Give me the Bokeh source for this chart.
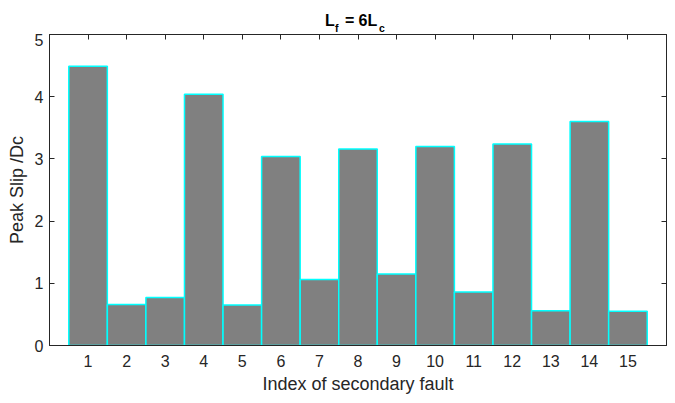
from bokeh.plotting import figure
from bokeh.models import ColumnDataSource, FixedTicker, LinearAxis, Range1d
from bokeh.layouts import column
from bokeh.core.properties import value
from bokeh.embed import file_html
from bokeh.resources import INLINE

# ---- data ----
fault_index = list(range(1, 16))
peak_slip = [4.49, 0.66, 0.77, 4.04, 0.65, 3.04, 1.06, 3.16,
             1.15, 3.20, 0.86, 3.24, 0.56, 3.60, 0.55]
x_ticks = list(range(1, 16))
y_ticks = [0, 1, 2, 3, 4, 5]
x_label = "Index of secondary fault"
y_label = "Peak Slip /Dc"
title_main = ["L", "=", "6L"]
title_subs = ["f", "c"]

FONT = "Liberation Sans"
INK = "#262626"

src = ColumnDataSource(dict(x=fault_index, top=peak_slip))

# ---- title strip ----
t = figure(width=675, height=33, output_backend="svg", toolbar_location=None,
           x_range=Range1d(0, 16), y_range=Range1d(0, 33),
           min_border_left=49, min_border_right=9,
           min_border_top=0, min_border_bottom=0,
           x_axis_location=None, y_axis_location=None)
t.outline_line_color = None
t.grid.visible = False
t.background_fill_color = "white"
t.border_fill_color = "white"
# main-size pieces
t.text(x=[8, 8, 8], y=[13, 13, 13], text=title_main,
       x_offset=[-33, -13, 0.5], text_font=value(FONT), text_font_size="16px",
       text_font_style="bold", text_color="black",
       text_align="left", text_baseline="alphabetic")
# subscripts
t.text(x=[8, 8], y=[6, 6], text=title_subs,
       x_offset=[-23, 21], text_font=value(FONT), text_font_size="10.5px",
       text_font_style="bold", text_color="black",
       text_align="left", text_baseline="alphabetic")

# ---- main plot ----
p = figure(width=675, height=370, output_backend="svg", toolbar_location=None,
           x_range=Range1d(0, 16), y_range=Range1d(0, 5),
           min_border_left=49, min_border_right=9,
           min_border_top=1, min_border_bottom=58)
p.background_fill_color = "white"
p.border_fill_color = "white"
p.outline_line_color = INK
p.outline_line_width = 1
p.grid.visible = False

p.vbar(x="x", top="top", width=1.0, bottom=0, source=src,
       fill_color="#808080", line_color="#00FFFF", line_width=1.5)

# bottom axis
xa = p.xaxis[0]
xa.ticker = FixedTicker(ticks=x_ticks)
xa.major_tick_in = 0
xa.major_tick_out = 0
xa.minor_tick_line_color = None
xa.major_label_standoff = 9
xa.axis_line_color = INK
xa.major_label_text_font = FONT
xa.major_label_text_font_size = "16px"
xa.major_label_text_color = INK
xa.axis_label = x_label
xa.axis_label_text_font = FONT
xa.axis_label_text_font_size = "18px"
xa.axis_label_text_font_style = "normal"
xa.axis_label_text_color = INK
xa.axis_label_standoff = 4

# left axis
ya = p.yaxis[0]
ya.ticker = FixedTicker(ticks=y_ticks)
ya.major_tick_in = 5
ya.major_tick_out = 0
ya.minor_tick_line_color = None
ya.major_label_standoff = 6
ya.axis_line_color = INK
ya.major_tick_line_color = INK
ya.major_label_text_font = FONT
ya.major_label_text_font_size = "16px"
ya.major_label_text_color = INK
ya.axis_label = y_label
ya.axis_label_text_font = FONT
ya.axis_label_text_font_size = "18px"
ya.axis_label_text_font_style = "normal"
ya.axis_label_text_color = INK
ya.axis_label_standoff = 5

# top & right axes (ticks only)
top_ax = LinearAxis(ticker=FixedTicker(ticks=x_ticks),
                    major_label_overrides={v: "" for v in x_ticks},
                    major_tick_in=5, major_tick_out=0, major_label_standoff=0,
                    minor_tick_line_color=None,
                    axis_line_color=INK, major_tick_line_color=INK)
right_ax = LinearAxis(ticker=FixedTicker(ticks=y_ticks),
                      major_label_overrides={v: "" for v in y_ticks},
                      major_tick_in=5, major_tick_out=0, major_label_standoff=0,
                      minor_tick_line_color=None,
                      axis_line_color=INK, major_tick_line_color=INK)
p.add_layout(top_ax, "above")
p.add_layout(right_ax, "right")

layout = column(t, p, spacing=0)
open("out.html", "w").write(file_html(layout, INLINE))
